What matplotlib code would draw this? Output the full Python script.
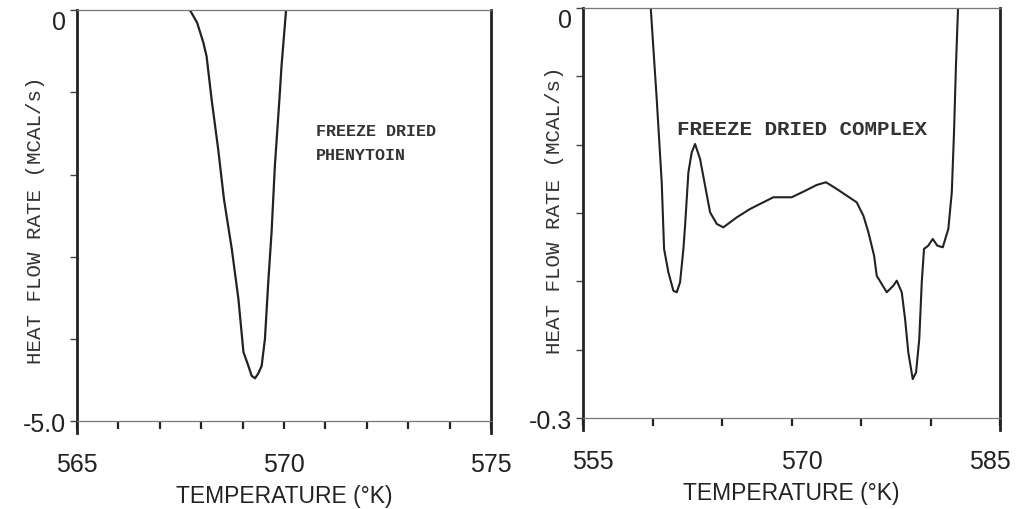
import numpy as np
import matplotlib
matplotlib.use("Agg")
import matplotlib.pyplot as plt
from matplotlib.ticker import MultipleLocator
from matplotlib.transforms import ScaledTranslation

# Left panel: freeze dried phenytoin (T in K, heat flow in mcal/s)
phen_T = [567.73, 567.90, 568.05, 568.13, 568.25, 568.41, 568.55, 568.74,
          568.90, 569.02, 569.14, 569.22, 569.30, 569.38, 569.46, 569.54,
          569.62, 569.70, 569.78, 569.89, 569.94, 570.05]
phen_Q = [0.0, -0.15, -0.39, -0.56, -1.08, -1.69, -2.30, -2.91,
          -3.52, -4.16, -4.33, -4.45, -4.48, -4.42, -4.33, -4.00,
          -3.31, -2.70, -1.89, -1.08, -0.68, 0.0]

# Right panel: freeze dried complex
cplx_T = [559.87, 560.30, 560.66, 560.83, 561.14, 561.50, 561.74, 561.98,
          562.22, 562.34, 562.58, 562.82, 563.06, 563.42, 563.78, 564.14,
          564.62, 565.09, 566.06, 567.01, 567.73, 568.69, 570.01, 570.85,
          571.81, 572.48, 573.25, 574.69, 575.17, 575.53, 575.94, 576.13,
          576.85, 577.32, 577.57, 577.93, 578.17, 578.40, 578.72, 578.96,
          579.19, 579.37, 579.53, 579.84, 580.16, 580.49, 580.88, 581.28,
          581.53, 581.69, 581.83, 581.98]
cplx_Q = [0.0, -0.0666, -0.1275, -0.1763, -0.1934, -0.2069, -0.2080, -0.2007,
          -0.1763, -0.1593, -0.1202, -0.1056, -0.0995, -0.1105, -0.1300, -0.1495,
          -0.1580, -0.1605, -0.1532, -0.1471, -0.1434, -0.1385, -0.1385, -0.1344,
          -0.1295, -0.1275, -0.1324, -0.1422, -0.1520, -0.1641, -0.1812, -0.1959,
          -0.2080, -0.2032, -0.1995, -0.2080, -0.2276, -0.2519, -0.2715, -0.2666,
          -0.2422, -0.2007, -0.1763, -0.1739, -0.1690, -0.1739, -0.1751, -0.1617,
          -0.1349, -0.0910, -0.0422, 0.0]

SANS = ["Liberation Sans", "DejaVu Sans"]
MONO = ["Liberation Mono", "DejaVu Sans Mono"]


def style(ax, xlim, ylim, xmajor, xminor, ymajor, yminor, ylabels, ylab_xy):
    ax.set_xlim(*xlim)
    ax.set_ylim(*ylim)
    for s in ("left", "right"):
        ax.spines[s].set_linewidth(2.0)
        ax.spines[s].set_color("#222")
        ax.spines[s].set_bounds(ylim[0] - 0.03 * (ylim[1] - ylim[0]), ylim[1])
    for s in ("top", "bottom"):
        ax.spines[s].set_linewidth(0.9)
        ax.spines[s].set_color("#777")
    ax.set_xticks(xmajor)
    ax.xaxis.set_minor_locator(MultipleLocator(xminor))
    ax.set_yticks(ymajor)
    ax.set_yticklabels(ylabels)
    ax.yaxis.set_minor_locator(MultipleLocator(yminor))
    ax.tick_params(axis="x", which="both", direction="out", length=6,
                   width=1.6, color="#222", pad=16)
    ax.tick_params(axis="y", which="both", direction="out", length=5,
                   width=1.0, color="#444", pad=3)
    for lab in ax.get_xticklabels() + ax.get_yticklabels():
        lab.set_family(SANS)
        lab.set_fontsize(18)
        lab.set_color("#222")
    # the "0" at the top sits just under the zero line
    ax.yaxis.get_major_ticks()[0].label1.set_verticalalignment("top")
    ax.set_xlabel("TEMPERATURE (°K)", family=SANS, fontsize=16.5,
                  color="#222", labelpad=6)
    ax.set_ylabel("HEAT FLOW RATE (MCAL/s)", family=MONO, fontsize=15,
                  color="#333")
    ax.yaxis.set_label_coords(*ylab_xy)


def main():
    fig = plt.figure(figsize=(10.17, 5.10), dpi=100)
    ax1 = fig.add_axes([0.0757, 0.1725, 0.4071, 0.8055])
    ax2 = fig.add_axes([0.5733, 0.1784, 0.4100, 0.8040])

    ax1.plot(phen_T, phen_Q, color="#222", lw=1.6)
    style(ax1, (565, 575), (-5.0, 0), [565, 570, 575], 1, [0, -5], 1,
          ["0", "-5.0"], (-0.077, 0.49))
    ax1.text(0.578, 0.678, "FREEZE DRIED\nPHENYTOIN", transform=ax1.transAxes,
             family=MONO, fontsize=12, fontweight="bold", color="#333",
             ha="left", va="center", linespacing=1.75)

    ax2.plot(cplx_T, cplx_Q, color="#222", lw=1.5)
    style(ax2, (555, 585), (-0.3, 0), [555, 570, 585], 5, [0, -0.3], 0.05,
          ["0", "-0.3"], (-0.046, 0.51))
    ax2.text(0.225, 0.705, "FREEZE DRIED COMPLEX", transform=ax2.transAxes,
             family=MONO, fontsize=15, fontweight="bold", color="#333",
             ha="left", va="center")
    # the plotter printed the right-hand temperature labels slightly offset
    for tick, dx in zip(ax2.xaxis.get_major_ticks(), (10, 10, -10)):
        lab = tick.label1
        lab.set_transform(lab.get_transform()
                          + ScaledTranslation(dx / 100, 0, fig.dpi_scale_trans))

    fig.savefig("out.png", dpi=100)


if __name__ == "__main__":
    main()
